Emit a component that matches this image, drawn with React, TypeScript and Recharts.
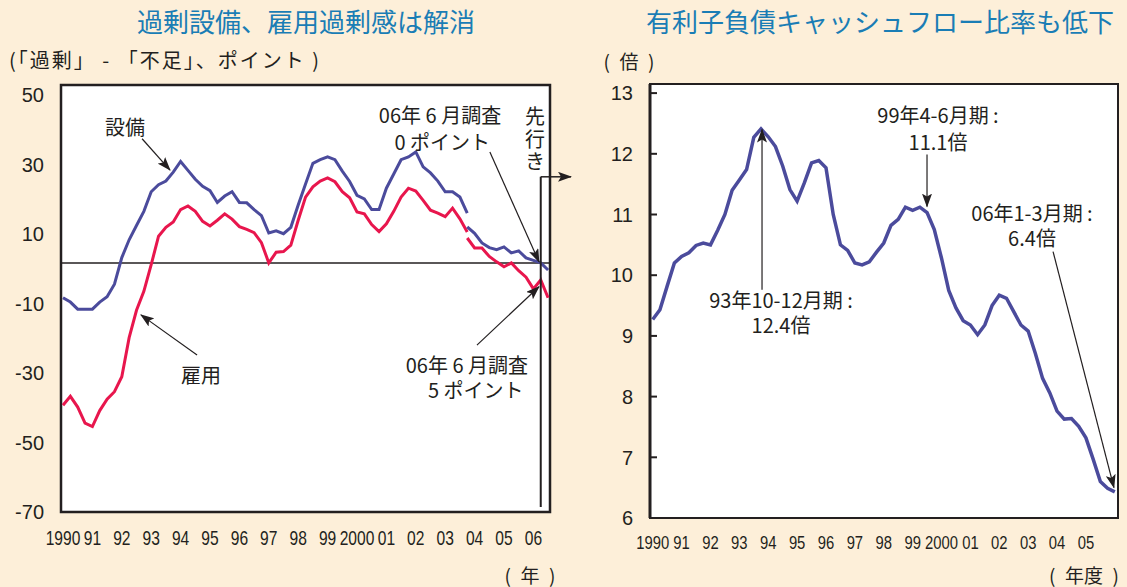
import React from 'react';
import { LineChart, Line, XAxis, YAxis, CartesianGrid, ReferenceLine, ReferenceArea } from 'recharts';

const BG = '#fdefd9';
const TITLE = '#1a7db5';
const NAVY = '#4b4b9c';
const RED = '#e8164d';
const INK = '#231f20';
const JP = "'Noto Sans CJK JP', 'Noto Sans', sans-serif";
const NUM = "'Liberation Sans', Arial, sans-serif";

// 短観 D.I.（「過剰」-「不足」）、1990年1-3月期から四半期ごと
// 旧ベースは2003年10-12月期まで、新ベースは同期から06年7-9月期（先行き）まで
const equipOld = [
  -9.8, -11, -13, -13, -13, -11, -9.5, -6, 1.5, 6.5,
  10.5, 14.5, 20, 22, 23, 25.5, 28.5, 26, 23.5, 21.5,
  20.3, 17, 18.8, 20, 17, 16.9, 15, 13.3, 8.4, 9,
  8.2, 10, 16.3, 22.2, 28, 29, 29.8, 29, 25.8, 22.9,
  19, 18, 15, 15, 21, 25, 29, 29.8, 31.2, 27,
  25.3, 23, 20, 20, 18.5, 14,
];
const equipNew = [10.1, 8.3, 5.6, 4.3, 3.7, 4.5, 2.8, 3.4, 1.4, 0.7, 0, -2];
const employOld = [
  -40, -37.5, -40.5, -45, -46, -41.5, -38.3, -36.2, -32, -21,
  -13.3, -8, -0.5, 7.5, 10, 11.5, 15, 16, 14.5, 11.7,
  10.4, 12, 13.8, 12.3, 10.2, 9.4, 8.5, 5.7, 0, 3,
  3.2, 5, 12, 18.5, 21.4, 23, 23.9, 22.8, 20, 18.3,
  14.3, 13.8, 10.8, 8.8, 11, 14.5, 18.5, 21, 20.2, 17.6,
  14.8, 14, 13, 15.4, 12.4, 8.7,
];
const employNew = [7, 4.2, 4.2, 1.8, 0.3, -1.1, 0, -2.2, -4, -7.3, -4.8, -9.8];
const NEW_FROM = 55;

// 有利子負債キャッシュフロー比率（倍）、1990年1-3月期〜2006年1-3月期
const debtRatio = [
  9.27, 9.43, 9.82, 10.2, 10.31, 10.37, 10.49, 10.53, 10.5, 10.74,
  11.0, 11.4, 11.57, 11.74, 12.27, 12.41, 12.28, 12.12, 11.8, 11.41,
  11.22, 11.52, 11.85, 11.89, 11.77, 11.0, 10.5, 10.41, 10.2, 10.17,
  10.22, 10.38, 10.53, 10.82, 10.92, 11.12, 11.07, 11.12, 11.03, 10.75,
  10.28, 9.75, 9.46, 9.25, 9.18, 9.02, 9.18, 9.5, 9.67, 9.62,
  9.4, 9.18, 9.08, 8.71, 8.3, 8.06, 7.76, 7.63, 7.64, 7.51,
  7.32, 6.97, 6.6, 6.49, 6.43,
];

const leftYTicks = [50, 30, 10, -10, -30, -50, -70];
const rightYTicks = [6, 7, 8, 9, 10, 11, 12, 13];
const leftYears = [1990, 1991, 1992, 1993, 1994, 1995, 1996, 1997, 1998, 1999, 2000, 2001, 2002, 2003, 2004, 2005, 2006];
const rightYears = leftYears.slice(0, 16);

const tankan = Array.from({ length: equipOld.length + equipNew.length - 1 }, (_, i) => ({
  t: 1990 + i / 4,
  equipOld: i <= NEW_FROM ? equipOld[i] : null,
  equipNew: i >= NEW_FROM ? equipNew[i - NEW_FROM] : null,
  employOld: i <= NEW_FROM ? employOld[i] : null,
  employNew: i >= NEW_FROM ? employNew[i - NEW_FROM] : null,
}));
const debt = debtRatio.map((v, i) => ({ t: 1990 + i / 4, ratio: v }));

const LX: [number, number] = [1989.932, 2006.565];
const RX: [number, number] = [1989.906, 2006.111];
const RY: [number, number] = [6, 13.15];

const yearText = (y: number) => (y === 1990 || y === 2000 ? String(y) : String(y).slice(2));

const YearTick = ({ x, y, payload, dy, size }: any) => (
  <text
    transform={`translate(${x},${y + dy}) scale(0.78,1)`}
    textAnchor="middle"
    fontSize={size}
    fontFamily={NUM}
    fill={INK}
  >
    {yearText(payload.value)}
  </text>
);

// 原図の目盛り数字はわずかに下へずれている
const LeftYTick = ({ x, y, payload }: any) => (
  <text x={x} y={y + (payload.value + 70) / 12} dy="0.36em" textAnchor="end" fontSize={20} fontFamily={NUM} fill={INK}>
    {payload.value}
  </text>
);

const RightYTick = ({ x, y, payload }: any) => (
  <g>
    <line x1={x + 17} x2={x + 24} y1={y} y2={y} stroke={INK} strokeWidth={2} />
    <text x={x} y={y} dy="0.36em" textAnchor="end" fontSize={20} fontFamily={NUM} fill={INK}>
      {payload.value}
    </text>
  </g>
);

const arrow = (head = true, w = 1.2) => (p: any) => (
  <line x1={p.x1} y1={p.y1} x2={p.x2} y2={p.y2} stroke={INK} strokeWidth={w} markerEnd={head ? 'url(#ah)' : undefined} />
);

const Note = ({ x, y, children, align = 'center', size = 20, color = INK, lh = 1, ls = 0 }: any) => (
  <div
    style={{
      position: 'absolute',
      left: x,
      top: y,
      transform: align === 'center' ? 'translate(-50%,-50%)' : align === 'right' ? 'translate(-100%,-50%)' : 'translate(0,-50%)',
      fontSize: size,
      color,
      fontFamily: JP,
      whiteSpace: 'pre',
      lineHeight: lh,
      letterSpacing: ls,
      textAlign: align,
    }}
  >
    {children}
  </div>
);

export default function App() {
  return (
    <div style={{ position: 'fixed', left: 0, top: 0, width: 1127, height: 587, background: BG, overflow: 'hidden' }}>
      <svg width={0} height={0} style={{ position: 'absolute' }}>
        <defs>
          <marker id="ah" viewBox="0 0 14 10" refX={13} refY={5} markerWidth={14} markerHeight={10} markerUnits="userSpaceOnUse" orient="auto">
            <path d="M0,0 L14,5 L0,10 L3,5 z" fill={INK} />
          </marker>
        </defs>
      </svg>

      {/* 左：過剰設備・雇用過剰感 */}
      <div style={{ position: 'absolute', left: 0, top: 0 }}>
        <LineChart width={580} height={587} data={tankan} margin={{ top: 85, right: 30, bottom: 35, left: 0 }}>
          <CartesianGrid fill="#fff" horizontal={false} vertical={false} />
          <XAxis
            dataKey="t"
            type="number"
            domain={LX}
            ticks={leftYears}
            interval={0}
            height={40}
            axisLine={false}
            tickLine={false}
            tick={(p: any) => <YearTick {...p} dy={25} size={20} />}
          />
          <YAxis
            type="number"
            domain={[-70, 50]}
            ticks={leftYTicks}
            interval={0}
            width={61}
            axisLine={false}
            tickLine={false}
            tickMargin={11}
            tick={LeftYTick}
          />
          <ReferenceLine y={0} stroke={INK} strokeWidth={1.5} />
          <Line dataKey="employOld" stroke={RED} strokeWidth={3} dot={false} isAnimationActive={false} connectNulls={false} />
          <Line dataKey="employNew" stroke={RED} strokeWidth={3} dot={false} isAnimationActive={false} connectNulls={false} />
          <Line dataKey="equipOld" stroke={NAVY} strokeWidth={3} dot={false} isAnimationActive={false} connectNulls={false} />
          <Line dataKey="equipNew" stroke={NAVY} strokeWidth={3} dot={false} isAnimationActive={false} connectNulls={false} />
          <ReferenceArea x1={LX[0]} x2={LX[1]} y1={-70} y2={50} fill="none" stroke={INK} strokeWidth={2.5} ifOverflow="visible" />
          <ReferenceLine segment={[{ x: 1992.69, y: 34.9 }, { x: 1993.64, y: 26.1 }]} ifOverflow="visible" shape={arrow()} />
          <ReferenceLine segment={[{ x: 1994.56, y: -25.9 }, { x: 1992.65, y: -14.6 }]} ifOverflow="visible" shape={arrow()} />
          <ReferenceLine segment={[{ x: 2004.52, y: 31.2 }, { x: 2006.19, y: 0.3 }]} ifOverflow="visible" shape={arrow()} />
          <ReferenceLine segment={[{ x: 2004.08, y: -23.1 }, { x: 2006.19, y: -6.7 }]} ifOverflow="visible" shape={arrow()} />
          <ReferenceLine segment={[{ x: 2006.25, y: 24.2 }, { x: 2006.25, y: -68.6 }]} ifOverflow="visible" shape={arrow(false, 2)} />
          <ReferenceLine segment={[{ x: 2006.25, y: 24.2 }, { x: 2007.28, y: 24.2 }]} ifOverflow="visible" shape={arrow(true, 1.5)} />
        </LineChart>
      </div>

      {/* 右：有利子負債キャッシュフロー比率 */}
      <div style={{ position: 'absolute', left: 580, top: 0 }}>
        <LineChart width={547} height={587} data={debt} margin={{ top: 84, right: 9, bottom: 29, left: 0 }}>
          <CartesianGrid fill="#fff" horizontal={false} vertical={false} />
          <XAxis
            dataKey="t"
            type="number"
            domain={RX}
            ticks={rightYears}
            interval={0}
            height={40}
            axisLine={false}
            tickLine={false}
            tick={(p: any) => <YearTick {...p} dy={23} size={19} />}
          />
          <YAxis
            type="number"
            domain={RY}
            ticks={rightYTicks}
            interval={0}
            width={70}
            axisLine={{ stroke: INK, strokeWidth: 3 }}
            tickLine={false}
            tickMargin={11}
            tick={RightYTick}
          />
          <Line dataKey="ratio" stroke={NAVY} strokeWidth={3.5} dot={false} isAnimationActive={false} />
          <ReferenceArea x1={RX[0]} x2={RX[1]} y1={RY[0]} y2={RY[1]} fill="none" stroke={INK} strokeWidth={2} ifOverflow="visible" />
          <ReferenceLine segment={[{ x: 1993.785, y: 9.76 }, { x: 1993.785, y: 12.4 }]} ifOverflow="visible" shape={arrow()} />
          <ReferenceLine segment={[{ x: 1999.498, y: 11.99 }, { x: 1999.498, y: 11.13 }]} ifOverflow="visible" shape={arrow()} />
          <ReferenceLine segment={[{ x: 2003.862, y: 10.39 }, { x: 2005.97, y: 6.5 }]} ifOverflow="visible" shape={arrow()} />
        </LineChart>
      </div>

      <Note x={306} y={21} size={26} color={TITLE}>過剰設備、雇用過剰感は解消</Note>
      <Note x={9} y={60} align="left" size={20} ls="2px">{'(「過剰」 - 「不足」、ポイント )'}</Note>
      <Note x={125} y={127}>設備</Note>
      <Note x={201} y={375}>雇用</Note>
      <Note x={440} y={128} lh="27px">{'06年 6 月調査\n 0 ポイント'}</Note>
      <Note x={535} y={139} lh="22.5px">{'先\n行\nき'}</Note>
      <Note x={528} y={377} align="right" lh="25px">{'06年 6 月調査\n5 ポイント '}</Note>
      <Note x={530} y={574} size={19}>{'(\u2002年\u2002)'}</Note>

      <Note x={880} y={21} size={26} color={TITLE}>有利子負債キャッシュフロー比率も低下</Note>
      <Note x={629} y={60} size={19}>{'(\u2002倍\u2002)'}</Note>
      <Note x={781} y={312} lh="25px">{'93年10-12月期 :\n12.4倍'}</Note>
      <Note x={938} y={128} lh="27px">{'99年4-6月期 :\n11.1倍'}</Note>
      <Note x={1032} y={225} lh="25px">{'06年1-3月期 :\n6.4倍'}</Note>
      <Note x={1084} y={574} size={19}>{'(\u2002年度\u2002)'}</Note>
    </div>
  );
}
